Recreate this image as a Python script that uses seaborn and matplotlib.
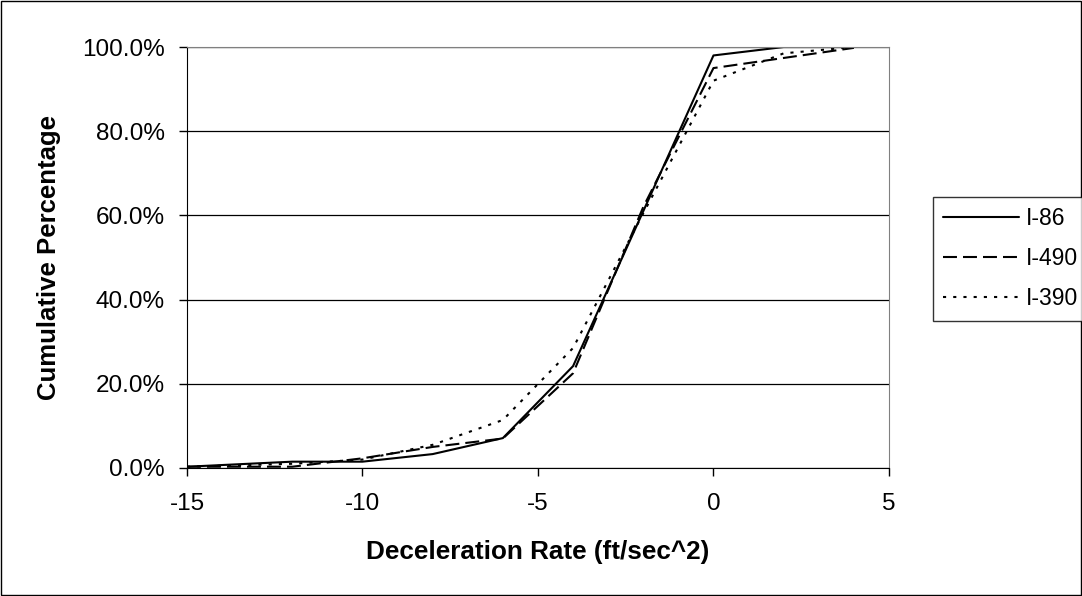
import numpy as np
import pandas as pd
import matplotlib
matplotlib.use('Agg')
import matplotlib.pyplot as plt
import seaborn as sns
from matplotlib.ticker import PercentFormatter
from matplotlib.patches import Rectangle

# %%
decel = [-15, -12, -10, -8, -6, -4, -2, 0, 2, 4]
i86 = [0.3, 1.5, 1.5, 3.3, 7.1, 24.2, 61.0, 98.0, 100.0, 100.0]
i490 = [0.3, 0.3, 2.3, 5.0, 7.0, 22.5, 62.0, 95.0, 97.4, 99.8]
i390 = [0.3, 1.0, 2.0, 5.5, 11.4, 28.5, 60.5, 92.0, 98.5, 100.0]
roads = ['I-86', 'I-490', 'I-390']

df = pd.DataFrame({
    'x': decel * 3,
    'y': i86 + i490 + i390,
    'road': [r for r in roads for _ in decel],
})

# %%
sns.set_style('white')
plt.rcParams['font.family'] = ['Liberation Sans', 'DejaVu Sans']
plt.rcParams['axes.unicode_minus'] = False
plt.rcParams['text.color'] = 'black'
plt.rcParams['axes.labelcolor'] = 'black'
plt.rcParams['xtick.color'] = 'black'
plt.rcParams['ytick.color'] = 'black'

fig = plt.figure(figsize=(10.82, 5.96), dpi=100)
ax = fig.add_axes([0.1728, 0.2148, 0.8216 - 0.1728, 0.9211 - 0.2148])

sns.lineplot(data=df, x='x', y='y', hue='road', style='road',
             palette={r: 'black' for r in roads},
             dashes={'I-86': '', 'I-490': (6.7, 2.9), 'I-390': (1.5, 3.4)},
             linewidth=1.5, ax=ax, legend=False)

ax.set_xlim(-15, 5)
ax.set_ylim(0, 100)
ax.set_xticks([-15, -10, -5, 0, 5])
ax.set_yticks([0, 20, 40, 60, 80, 100])
ax.yaxis.set_major_formatter(PercentFormatter(decimals=1))
ax.grid(axis='y', color='black', linewidth=0.9)
ax.tick_params(axis='both', which='major', labelsize=17.5, direction='out',
               length=6, width=1, color='black', labelcolor='black',
               bottom=True, left=True)
ax.tick_params(axis='x', pad=12)
ax.tick_params(axis='y', pad=10)
for s in ['left', 'bottom']:
    ax.spines[s].set_color('black')
for s in ['top', 'right']:
    ax.spines[s].set_color('#808080')

ax.set_xlabel('Deceleration Rate (ft/sec^2)', fontsize=18.8, fontweight='bold')
ax.set_ylabel('Cumulative Percentage', fontsize=18.5, fontweight='bold')
ax.xaxis.set_label_coords(0.5, (468 - 540) / 421)
ax.yaxis.set_label_coords((61 - 187) / 702, 0.5)

handles = ax.get_lines()[:3]
leg = fig.legend(handles, roads, loc='center left',
                 bbox_to_anchor=(933 / 1082, (596 - 258.5) / 596),
                 borderaxespad=0, fontsize=16.5, frameon=True, fancybox=False,
                 handlelength=3.3, labelspacing=0.75, borderpad=0.45,
                 handletextpad=0.3)
leg.get_frame().set_edgecolor('black')
leg.get_frame().set_linewidth(1)

fig.patches.append(Rectangle((0.001, 0.001), 0.998, 0.997, transform=fig.transFigure,
                             fill=False, edgecolor='black', linewidth=1))

plt.savefig('out.png')
